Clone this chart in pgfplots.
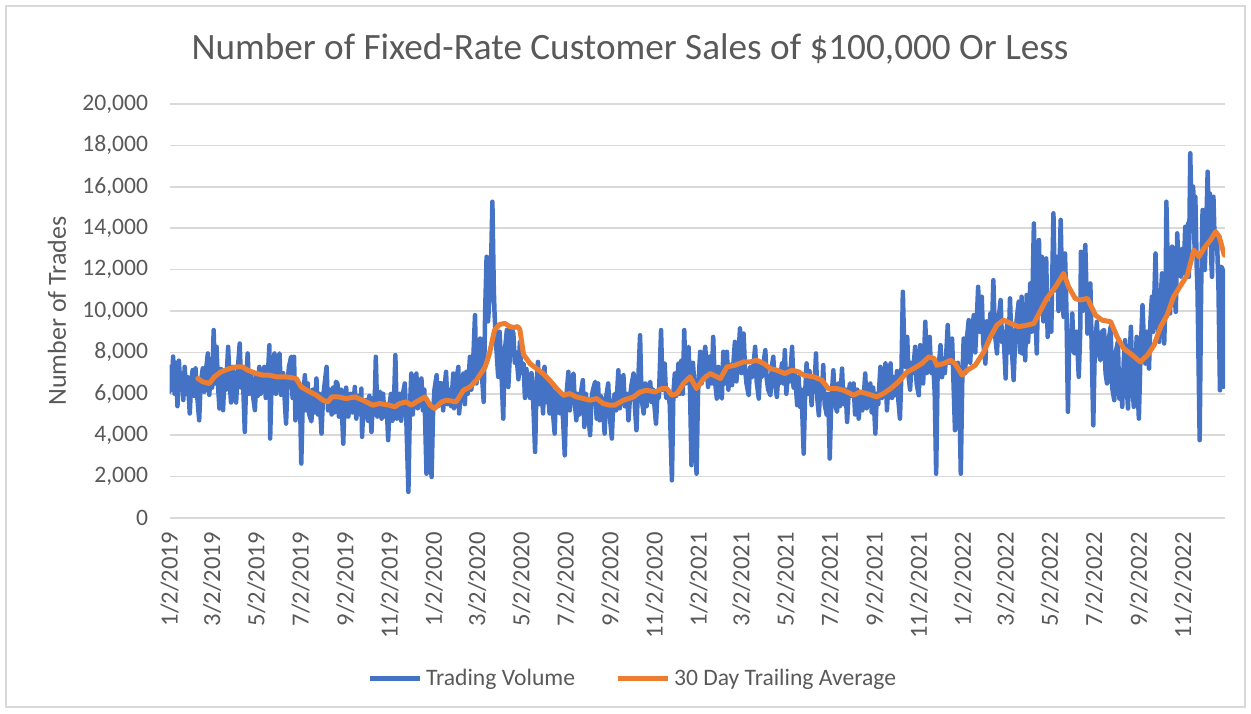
\documentclass[border=0pt]{standalone}
\usepackage{fontspec}
\setmainfont{Carlito}
\usepackage{pgfplots}
\pgfplotsset{compat=1.18}
\definecolor{cblue}{HTML}{4472C4}
\definecolor{corange}{HTML}{ED7D31}
\definecolor{ctext}{HTML}{595959}
\definecolor{cgrid}{HTML}{D9D9D9}
\begin{document}
\begin{tikzpicture}
\useasboundingbox (0,0) rectangle (625.5pt,356.5pt);
\draw[cgrid, line width=0.75pt] (3pt,3pt) rectangle (622.5pt,353.5pt);
\begin{axis}[
  at={(84.75pt,97.5pt)}, anchor=south west,
  scale only axis, width=527.75pt, height=207pt,
  xmin=0, xmax=1458, ymin=0, ymax=20000,
  axis line style={draw=none},
  tick style={draw=none},
  ymajorgrids,
  major grid style={color=cgrid, line width=0.75pt},
  ytick={0,2000,...,20000},
  scaled y ticks=false,
  y tick label style={/pgf/number format/assume math mode=true, /pgf/number format/1000 sep={,}, font=\fontsize{11.8}{14}\selectfont, text=ctext, anchor=east, inner sep=0pt, xshift=-10.5pt},
  xtick={0,59,120,181,243,304,365,425,486,547,609,670,731,790,851,912,974,1035,1096,1155,1216,1277,1339,1400},
  xticklabels={1/2/2019,3/2/2019,5/2/2019,7/2/2019,9/2/2019,11/2/2019,1/2/2020,3/2/2020,5/2/2020,7/2/2020,9/2/2020,11/2/2020,1/2/2021,3/2/2021,5/2/2021,7/2/2021,9/2/2021,11/2/2021,1/2/2022,3/2/2022,5/2/2022,7/2/2022,9/2/2022,11/2/2022},
  x tick label style={yshift=-5pt, rotate=90, anchor=east, inner sep=2pt, font=\fontsize{12.3}{14}\selectfont, text=ctext},
  title={Number of Fixed-Rate Customer Sales of \$100,000 Or Less},
  title style={at={(axis description cs:0.4363,1.1377)}, anchor=center, yshift=-7pt, font=\fontsize{18.6}{21}\selectfont, text=ctext},
  ylabel={Number of Trades},
  ylabel style={at={(axis description cs:-0.1066,0.5)}, anchor=center, font=\fontsize{13}{15}\selectfont, text=ctext},
  legend columns=2,
  legend style={at={(axis description cs:0.4396,-0.388)}, anchor=center, draw=none, fill=none, font=\fontsize{11.8}{14}\selectfont, text=ctext, /tikz/every even column/.append style={column sep=18pt}},
  legend image code/.code={\draw[#1, line width=2.5pt, line cap=butt] (0pt,0pt) -- (25pt,0pt);},
]
\addplot[color=cblue, line width=2.25pt, line join=round, line cap=round] coordinates {
(0,6100)(1,7300)(3,6200)(5,7800)(7,6000)(9,7500)(11,5400)(13,7600)(15,6200)(17,7000)(19,5700)(21,7300)(23,6000)(25,6800)(28,5050)(30,6600)(32,7150)(34,5900)(36,7230)(38,6000)(41,4720)(43,6500)(46,7230)(48,6100)(50,7000)(53,7950)(55,5950)(57,7400)(59,6300)(61,9080)(63,6500)(65,8270)(67,6400)(69,5290)(71,7200)(74,5210)(76,7000)(78,6200)(81,8270)(83,6600)(85,5580)(87,7300)(89,6200)(92,5580)(94,7000)(97,8430)(99,6300)(101,7200)(104,4160)(106,6800)(108,7950)(110,6000)(113,6930)(115,6000)(118,5210)(120,6900)(122,5900)(124,7300)(126,6000)(129,6800)(131,7300)(133,5800)(136,7000)(138,8350)(139,3840)(141,6500)(143,7400)(145,7950)(147,6000)(150,7600)(152,7950)(154,5950)(157,7000)(159,5800)(161,4560)(163,6500)(165,7300)(168,7790)(170,5800)(172,7790)(174,4720)(176,6500)(178,5500)(180,6300)(182,2630)(184,5500)(187,6900)(189,5200)(191,6500)(193,5000)(196,4670)(198,6200)(200,5100)(203,6740)(205,5000)(207,6000)(210,4080)(212,5800)(214,6400)(217,7300)(219,5200)(221,6200)(224,5000)(226,6300)(228,5100)(230,6580)
(232,6500)(234,4900)(237,6200)(240,3590)(242,5800)(244,6300)(247,4900)(250,6000)(253,5100)(256,6330)(258,4800)(261,5900)(263,5000)(265,6250)(266,3920)(268,5600)(270,4900)(272,5700)(274,4700)(276,5900)(279,4160)(281,5800)(283,5000)(285,7790)(287,4900)(289,5700)(291,6100)(293,4800)(295,6000)(297,4900)(300,5500)(302,3760)(304,5500)(306,6000)(308,4700)(310,5500)(312,7870)(314,4800)(316,5500)(318,6000)(320,4700)(322,5900)(325,6500)(327,4900)(330,1260)(332,5200)(334,6980)(336,5000)(339,6500)(341,6980)(343,5300)(345,6100)(348,6740)(350,5200)(352,6200)(355,2140)(357,5600)(359,4900)(362,1980)(364,5000)(366,6200)(369,6900)(371,5400)(373,6500)(376,6500)(378,5200)(380,6300)(382,7060)(384,5500)(387,6200)(389,5400)(392,6980)(393,5300)(396,6600)(399,7300)(400,5050)(403,6300)(406,6980)(408,5500)(410,7060)(412,6000)(415,7790)(417,6200)(420,8000)(422,9800)(424,6500)(426,7500)(429,8670)(431,7200)(434,5610)(436,9960)(438,12620)(440,9500)(442,10610)(444,12000)(446,15280)(448,11000)(449,9880)(451,8500)(454,6820)(456,9000)(458,7500)(461,4800)(463,8000)(466,9080)(468,6330)
(472,9200)(475,8910)(477,7500)(479,8000)(482,6700)(484,8500)(486,7000)(489,7460)(491,5800)(493,7200)(495,6500)(498,5800)(500,7000)(502,6000)(505,3190)(507,6500)(509,7540)(511,5500)(513,7000)(516,5050)(518,7300)(520,5600)(522,6500)(525,5050)(527,6400)(529,5400)(532,4080)(534,6200)(536,5300)(539,5050)(541,6000)(543,5200)(546,3030)(548,5800)(551,7060)(553,5200)(555,6500)(558,6980)(560,5500)(562,4720)(564,6000)(566,5000)(569,6200)(571,6660)(573,4400)(575,6000)(578,5200)(581,4000)(583,5800)(585,6200)(588,6580)(590,4800)(592,6500)(594,4720)(596,5900)(599,5300)(601,4080)(603,5800)(606,6500)(608,5000)(611,3840)(613,5600)(615,6000)(617,5200)(620,7140)(622,5300)(624,6300)(627,6900)(629,5400)(632,6000)(634,4720)(636,5800)(638,6400)(641,6980)(643,5300)(645,4240)(647,6200)(650,8830)(652,5800)(655,5050)(657,6500)(659,5400)(661,6300)(664,6580)(666,5600)(668,6200)(672,4560)(674,6000)(676,5800)(679,9080)(681,6200)(684,7460)(686,5800)(689,6000)(691,5500)(694,1820)(696,6000)(698,6980)(700,5900)(703,7460)
(705,6000)(707,7600)(709,6000)(711,9080)(713,6500)(715,8000)(717,8270)(719,6200)(721,2550)(723,7500)(725,6500)(728,2140)(730,6000)(733,8030)(735,6500)(737,7500)(740,8270)(742,7200)(744,6330)(746,7800)(749,6500)(751,8750)(753,6800)(756,5770)(758,7300)(760,6200)(763,5770)(765,8030)(767,6500)(770,8030)(772,6200)(774,7400)(777,6420)(779,7500)(781,8510)(783,6600)(786,7800)(788,9160)(790,7000)(793,8910)(795,7200)(797,6500)(800,5930)(802,7300)(805,6800)(807,7500)(809,8270)(811,6600)(814,5770)(816,7400)(818,6800)(821,7600)(823,8110)(825,6700)(827,6200)(830,5930)(832,7300)(834,7790)(836,6600)(839,5850)(841,7000)(843,6500)(846,7470)(848,6500)(850,8110)(852,6000)(855,7200)(857,6600)(860,8270)(862,6300)(864,7000)(867,5450)(869,6800)(871,5370)(873,6200)(876,3110)(878,6000)(880,7470)(882,6000)(884,7100)(887,5450)(889,6800)(891,6300)(893,7950)(895,5700)(897,4960)(899,6500)(901,5800)(903,7390)(905,5500)(908,4960)(910,6000)(912,2870)(914,5500)(917,7140)(919,5600)(922,5130)(924,6500)(926,5400)(929,7220)(931,5500)(934,6200)(936,4640)(938,6000)(940,6500)
(942,5900)(945,6500)(947,5000)(950,6200)(952,4800)(955,6000)(957,5200)(960,6400)(961,6980)(963,5300)(966,6000)(968,6500)(970,5100)(972,6300)(975,4080)(977,6000)(979,5500)(982,7300)(984,5800)(987,6500)(989,7470)(991,5200)(993,6500)(996,7470)(998,5800)(1000,6800)(1002,5930)(1005,7100)(1007,5600)(1009,4800)(1011,7000)(1013,10930)(1015,8000)(1017,7300)(1019,8750)(1021,6800)(1023,6200)(1025,7500)(1027,7000)(1030,8270)(1032,6500)(1035,5930)(1037,8350)(1039,7000)(1041,6500)(1044,9480)(1046,7000)(1048,8000)(1050,8750)(1052,7000)(1055,7500)(1057,6000)(1059,2140)(1061,7000)(1063,7500)(1065,8350)(1067,6800)(1069,7470)(1071,7000)(1073,8000)(1075,9320)(1077,7500)(1079,8000)(1081,8670)(1083,6500)(1085,4240)(1087,7000)(1089,7500)(1091,6000)(1093,2140)(1095,6500)(1097,8670)(1099,7000)(1101,8500)(1104,9560)(1106,7500)(1108,8800)(1111,9800)(1113,8000)(1115,9500)(1117,11170)(1119,9000)(1121,10000)(1122,10690)(1124,8500)(1127,7460)(1129,9500)(1131,8500)(1134,9880)(1136,9000)(1138,11490)(1140,9000)(1143,7950)(1145,9500)(1148,10530)(1150,8500)(1152,9000)(1155,6740)(1157,9500)(1159,8000)(1161,10610)(1163,8500)(1166,6660)(1168,8500)(1170,9500)(1173,10450)
(1175,8000)(1177,10690)(1178,7950)(1180,9000)(1182,7620)(1184,10770)(1186,8500)(1189,11330)(1191,9000)(1194,14230)(1196,10000)(1198,7950)(1201,13430)(1203,10000)(1205,12620)(1207,9500)(1209,11000)(1211,12540)(1213,8750)(1216,10200)(1218,9000)(1221,14720)(1223,11000)(1226,12620)(1228,10000)(1231,14400)(1233,11000)(1235,9720)(1237,12780)(1239,10000)(1241,5130)(1243,9000)(1245,8500)(1247,9880)(1249,8000)(1251,7950)(1253,9000)(1256,6820)(1258,9000)(1259,12860)(1261,10000)(1263,11500)(1265,13190)(1267,10500)(1268,8910)(1270,10000)(1272,11330)(1274,8000)(1276,4480)(1278,8000)(1281,9480)(1283,8000)(1286,7620)(1288,9000)(1291,9080)(1293,7000)(1295,6500)(1297,8500)(1300,9240)(1302,6330)(1305,5690)(1307,8000)(1310,8510)(1312,5770)(1314,7000)(1316,5370)(1318,7500)(1320,8590)(1322,6500)(1324,5290)(1326,7500)(1328,9240)(1330,6500)(1332,5370)(1334,7000)(1336,8750)(1337,6500)(1339,4800)(1341,7500)(1344,10280)(1346,8500)(1348,7460)(1350,9000)(1353,7220)(1355,9500)(1357,10690)(1359,9000)(1362,12780)(1364,10000)(1367,8510)(1369,10500)(1371,11820)(1373,9500)(1374,8430)(1376,11000)(1377,15280)(1379,12000)(1382,9880)(1384,12000)(1385,13110)(1388,11000)(1390,9960)(1392,13750)(1394,12000)(1397,11650)(1399,13000)(1401,11820)(1403,14070)(1405,12500)(1407,14230)(1408,11650)(1410,17620)(1412,14000)(1414,16010)(1416,13000)(1417,15520)(1419,12000)(1420,11010)(1423,3760)(1425,11000)(1427,14880)(1430,11980)(1432,14000)(1434,16730)(1436,13500)(1437,15680)(1439,12500)(1440,11650)(1442,15520)(1444,13000)(1447,13430)(1449,11000)(1451,6170)(1453,12140)(1455,11980)(1456,6330)(1458,6400)
};
\addlegendentry{Trading Volume}
\addplot[color=corange, line width=2.5pt, line join=round, line cap=round] coordinates {
(39,6740)(46,6580)(55,6500)(62,6820)(71,7060)(83,7220)(92,7300)(101,7300)(108,7140)(120,6980)(129,6900)(138,6900)(148,6820)(161,6820)(175,6740)(182,6330)(194,6090)(203,5930)(212,5690)(219,5610)(224,5850)(233,5850)(244,5770)(256,5850)(267,5690)(281,5450)(290,5530)(304,5450)(311,5370)(318,5530)(327,5610)(334,5450)(341,5610)(353,5850)(360,5450)(366,5290)(376,5610)(383,5690)(396,5610)(406,6170)(415,6330)(424,6660)(436,7300)(442,7950)(449,9080)(456,9350)(463,9400)(470,9250)(476,9200)(481,9250)(484,9100)(489,7900)(498,7460)(507,7220)(516,6980)(525,6660)(535,6250)(544,5930)(553,6010)(562,5850)(572,5770)(581,5690)(590,5770)(599,5530)(608,5450)(615,5450)(627,5690)(641,5850)(650,6090)(659,6170)(671,6090)(680,6250)(687,6250)(694,5930)(701,6010)(710,6500)(719,6820)(728,6250)(738,6740)(747,6980)(761,6740)(770,7300)(781,7380)(793,7540)(802,7540)(811,7620)(821,7460)(830,7220)(839,7140)(850,6980)(860,7140)(869,7060)(876,6900)(890,6820)(901,6660)(910,6250)(922,6250)(931,6170)(936,6090)(945,5930)(954,6090)(963,6010)(977,5850)(986,6010)(996,6250)(1007,6580)(1019,7060)(1028,7220)(1039,7460)(1049,7790)(1056,7710)(1060,7380)(1069,7460)(1079,7620)(1085,7460)(1095,6900)(1102,7140)(1113,7380)(1125,8030)(1134,8750)(1143,9320)(1152,9560)(1162,9400)(1173,9240)(1185,9320)(1194,9400)(1201,9880)(1212,10610)(1224,11170)(1231,11570)(1235,11820)(1242,11170)(1251,10610)(1258,10530)(1268,10610)(1279,9800)(1288,9560)(1300,9480)(1309,8750)(1318,8190)(1330,7870)(1341,7540)(1351,7870)(1360,8350)(1369,9240)(1378,9800)(1387,10690)(1397,11250)(1406,11740)(1415,12940)(1422,12620)(1429,13030)(1438,13430)(1445,13830)(1450,13590)(1457,12700)
};
\addlegendentry{30 Day Trailing Average}
\end{axis}
\end{tikzpicture}
\end{document}
